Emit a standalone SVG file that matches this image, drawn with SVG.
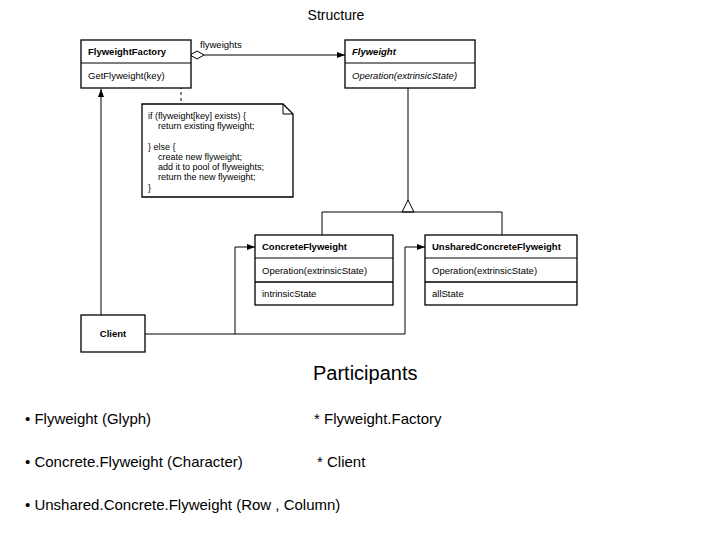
<svg xmlns="http://www.w3.org/2000/svg" width="720" height="540" viewBox="0 0 720 540">
<style>
.b{fill:#fff;stroke:#000;stroke-width:1.3}
.l{stroke:#000;stroke-width:1;fill:none}
.t{font-family:"Liberation Sans",Arial,sans-serif;font-size:9.5px}
.bd{font-weight:bold}
.it{font-style:italic}
.p{font-family:"Liberation Sans",Arial,sans-serif;font-size:15px}
</style>
<defs>
<marker id="a" markerWidth="8" markerHeight="6" refX="8" refY="3" orient="auto" markerUnits="userSpaceOnUse"><path d="M0,0 L8,3 L0,6 Z" fill="#000"/></marker>
</defs>
<rect width="720" height="540" fill="#fff"/>
<text x="336" y="20" text-anchor="middle" class="p" style="font-size:14px">Structure</text>
<g id="connectors">
<line class="l" x1="204" y1="55" x2="345" y2="55" marker-end="url(#a)"/>
<path d="M190,55 L197,51 L204,55 L197,59 Z" fill="#fff" stroke="#000"/>
<text x="200" y="48" class="t">flyweights</text>
<line class="l" x1="181" y1="80" x2="181" y2="104" stroke-dasharray="3,3"/>
<circle cx="181" cy="76" r="2.5" fill="#fff" stroke="#000"/>
<line class="l" x1="408" y1="88" x2="408" y2="200"/>
<path d="M408,200 L402,212 L414,212 Z" fill="#fff" stroke="#000"/>
<path class="l" d="M322,235 V212 H502 V235"/>
<line class="l" x1="101" y1="315" x2="101" y2="89" marker-end="url(#a)"/>
<path class="l" d="M145,334 H405 V247 H425" marker-end="url(#a)"/>
<path class="l" d="M235,334 V247 H255" marker-end="url(#a)"/>
</g>
<g id="FlyweightFactory">
<rect class="b" x="81" y="40" width="110" height="48"/>
<line class="l" x1="81" y1="63" x2="191" y2="63"/>
<text x="88" y="55" class="t bd">FlyweightFactory</text>
<text x="88" y="79" class="t">GetFlyweight(key)</text>
</g>
<g id="Flyweight">
<rect class="b" x="345" y="40" width="130" height="48"/>
<line class="l" x1="345" y1="63" x2="475" y2="63"/>
<text x="352" y="55" class="t bd it">Flyweight</text>
<text x="352" y="79" class="t it">Operation(extrinsicState)</text>
</g>
<g id="note">
<path class="b" d="M142,104 H283 L293,114 V197 H142 Z"/>
<path class="l" d="M283,104 V114 H293"/>
<text class="t" style="font-size:9px"><tspan x="148" y="119">if (flyweight[key] exists) {</tspan><tspan x="158" y="129">return existing flyweight;</tspan><tspan x="148" y="150">} else {</tspan><tspan x="158" y="160">create new flyweight;</tspan><tspan x="158" y="170">add it to pool of flyweights;</tspan><tspan x="158" y="180">return the new flyweight;</tspan><tspan x="148" y="191">}</tspan></text>
</g>
<g id="ConcreteFlyweight">
<rect class="b" x="255" y="235" width="138" height="70"/>
<line class="l" x1="255" y1="258" x2="393" y2="258"/>
<line class="b" x1="255" y1="282" x2="393" y2="282"/>
<text x="262" y="250" class="t bd">ConcreteFlyweight</text>
<text x="262" y="274" class="t">Operation(extrinsicState)</text>
<text x="262" y="297" class="t">intrinsicState</text>
</g>
<g id="UnsharedConcreteFlyweight">
<rect class="b" x="425" y="235" width="152" height="70"/>
<line class="l" x1="425" y1="258" x2="577" y2="258"/>
<line class="b" x1="425" y1="282" x2="577" y2="282"/>
<text x="432" y="250" class="t bd">UnsharedConcreteFlyweight</text>
<text x="432" y="274" class="t">Operation(extrinsicState)</text>
<text x="432" y="297" class="t">allState</text>
</g>
<g id="Client">
<rect class="b" x="81" y="315" width="64" height="37"/>
<text x="113" y="337" text-anchor="middle" class="t bd">Client</text>
</g>
<text x="313" y="380" class="p" style="font-size:20px">Participants</text>
<text x="25" y="424" class="p">• Flyweight (Glyph)</text>
<text x="314" y="424" class="p">*  Flyweight.Factory</text>
<text x="25" y="467" class="p">• Concrete.Flyweight (Character)</text>
<text x="317" y="467" class="p">* Client</text>
<text x="25" y="510" class="p">• Unshared.Concrete.Flyweight (Row , Column)</text>
</svg>
